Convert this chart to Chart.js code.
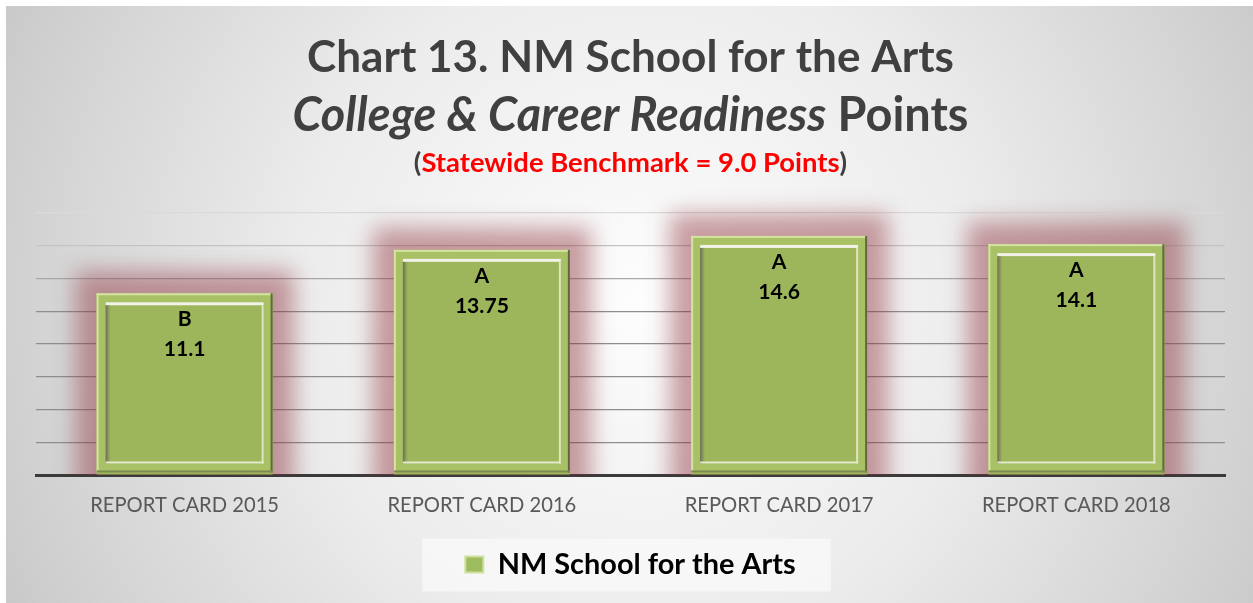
<!DOCTYPE html>
<html><head><meta charset="utf-8">
<script src="https://cdn.jsdelivr.net/npm/chart.js@4.4.1/dist/chart.umd.min.js"></script>
<style>html,body{margin:0;padding:0;background:#fff;overflow:hidden}#wrap{position:relative;width:1253px;height:603px}</style>
</head><body><div id="wrap"><canvas id="c" width="1253" height="603"></canvas></div>
<script>
// ---- data ----
const categories = ['REPORT CARD 2015', 'REPORT CARD 2016', 'REPORT CARD 2017', 'REPORT CARD 2018'];
const points = [11.1, 13.75, 14.6, 14.1];
const grades = ['B', 'A', 'A', 'A'];
const pointLabels = ['11.1', '13.75', '14.6', '14.1'];
const seriesName = 'NM School for the Arts';
const yMin = 0, yMax = 16, yStep = 2;
const titleLine1 = 'Chart 13. NM School for the Arts';
const titleLine2Italic = 'College & Career Readiness';
const titleLine2Plain = ' Points';
const titleLine3 = 'Statewide Benchmark = 9.0 Points';

// ---- font fitting ----
const FAMILY = 'Lato, "Open Sans", sans-serif';
const mc = document.createElement('canvas').getContext('2d');
function fit(parts, target) {
  let w = 0;
  parts.forEach(p => { mc.font = p.style + ' 100px ' + FAMILY; w += mc.measureText(p.text).width; });
  return 100 * target / w;
}
const s1 = fit([{style: 'bold', text: titleLine1}], 647);
const s2 = fit([{style: 'italic bold', text: titleLine2Italic}, {style: 'bold', text: titleLine2Plain}], 676);
const s3 = fit([{style: 'bold', text: '(' + titleLine3 + ')'}], 433);
const xs = fit([{style: 'normal', text: categories[0]}], 189);
const ls = fit([{style: 'bold', text: seriesName}], 298);
const vs = fit([{style: 'bold', text: '13.75'}], 54);

function drawParts(ctx, parts, cx, baseline, size) {
  let w = 0;
  parts.forEach(p => { ctx.font = p.style + ' ' + size + 'px ' + FAMILY; p.w = ctx.measureText(p.text).width; w += p.w; });
  let x = cx - w / 2;
  ctx.textBaseline = 'alphabetic'; ctx.textAlign = 'left';
  parts.forEach(p => { ctx.font = p.style + ' ' + size + 'px ' + FAMILY; ctx.fillStyle = p.color; ctx.fillText(p.text, x, baseline); x += p.w; });
}

const backgroundPlugin = {
  id: 'bg',
  beforeDraw(chart) {
    const ctx = chart.ctx, W = chart.width, H = chart.height;
    ctx.save();
    ctx.fillStyle = '#ffffff'; ctx.fillRect(0, 0, W, H);
    const g = ctx.createRadialGradient(640, 300, 0, 640, 300, 760);
    g.addColorStop(0, '#fdfdfd'); g.addColorStop(0.45, '#ececec');
    g.addColorStop(0.8, '#d3d3d3'); g.addColorStop(1, '#c3c3c3');
    ctx.fillStyle = g; ctx.fillRect(6, 6, W - 6, H - 6);
    // titles
    const cx = (chart.chartArea.left + chart.chartArea.right) / 2;
    drawParts(ctx, [{style: 'bold', text: titleLine1, color: '#404040'}], cx, 72, s1);
    drawParts(ctx, [{style: 'italic bold', text: titleLine2Italic, color: '#404040'}, {style: 'bold', text: titleLine2Plain, color: '#404040'}], cx, 131, s2);
    drawParts(ctx, [{style: 'bold', text: '(', color: '#404040'}, {style: 'bold', text: titleLine3, color: '#ff0000'}, {style: 'bold', text: ')', color: '#404040'}], cx, 172, s3);
    // legend backdrop
    const lg = chart.legend;
    if (lg && lg.legendHitBoxes && lg.legendHitBoxes.length) {
      const hb = lg.legendHitBoxes[0];
      const cy = hb.top + hb.height / 2;
      ctx.fillStyle = 'rgba(250,250,250,0.75)';
      ctx.fillRect(hb.left - 43, cy - 26, hb.width + 78, 53);
    }
    ctx.restore();
  }
};

const glowPlugin = {
  id: 'glow',
  beforeDatasetsDraw(chart) {
    const ctx = chart.ctx, a = chart.chartArea;
    const meta = chart.getDatasetMeta(0);
    ctx.save();
    ctx.beginPath(); ctx.rect(a.left - 40, a.top - 40, a.right - a.left + 80, a.bottom - a.top + 40); ctx.clip();
    ctx.filter = 'blur(11px)';
    ctx.fillStyle = 'rgba(140,45,55,0.45)';
    meta.data.forEach(el => {
      const L = el.x - el.width / 2;
      ctx.fillRect(L - 21, el.y - 22, el.width + 42, el.base - el.y + 50);
    });
    ctx.restore();
  }
};

const bevelPlugin = {
  id: 'bevel',
  afterDatasetsDraw(chart) {
    const ctx = chart.ctx;
    const meta = chart.getDatasetMeta(0);
    ctx.save();
    meta.data.forEach((el, i) => {
      const L = el.x - el.width / 2, R = el.x + el.width / 2, T = el.y, B = el.base - 2;
      const w = R - L, h = B - T;
      ctx.fillStyle = '#a9c165'; ctx.fillRect(L, T, w, h);
      // outer edges
      ctx.fillStyle = '#d4e2a4'; ctx.fillRect(L, T, w, 2); ctx.fillRect(L, T, 2, h);
      ctx.fillStyle = '#5f6842'; ctx.fillRect(R - 2, T, 2, h);
      ctx.fillStyle = '#7d8a4f'; ctx.fillRect(L, B - 2, w, 2);
      // inner panel
      const f = 9;
      ctx.fillStyle = '#9db55b'; ctx.fillRect(L + f, T + f, w - 2 * f, h - 2 * f);
      ctx.fillStyle = '#f2f2e8'; ctx.fillRect(L + f, T + f, w - 2 * f, 3);
      const lg = ctx.createLinearGradient(L + f, 0, L + f + 5, 0);
      lg.addColorStop(0, '#6a6a58'); lg.addColorStop(1, 'rgba(120,130,90,0)');
      ctx.fillStyle = lg; ctx.fillRect(L + f, T + f + 3, 5, h - 2 * f - 3);
      ctx.fillStyle = '#dfe5c4'; ctx.fillRect(R - f - 2, T + f + 3, 2, h - 2 * f - 3);
      ctx.fillStyle = '#e4e8cd'; ctx.fillRect(L + f, B - f - 2, w - 2 * f, 2);
      // labels
      ctx.fillStyle = '#000000';
      ctx.font = 'bold ' + vs + 'px ' + FAMILY;
      ctx.textAlign = 'center'; ctx.textBaseline = 'middle';
      ctx.fillText(grades[i], el.x, T + 26);
      ctx.fillText(pointLabels[i], el.x, T + 56);
    });
    ctx.restore();
  }
};

new Chart(document.getElementById('c'), {
  type: 'bar',
  data: {
    labels: categories,
    datasets: [{
      label: seriesName,
      data: points,
      backgroundColor: '#9db55b',
      borderWidth: 0,
      barPercentage: 0.592,
      categoryPercentage: 1.0
    }]
  },
  options: {
    responsive: false,
    animation: false,
    layout: {padding: {top: 213, left: 36, right: 28, bottom: 14}},
    scales: {
      x: {
        grid: {display: false},
        border: {display: true, color: '#3a3a3a', width: 3},
        ticks: {color: '#595959', font: {family: FAMILY, size: xs}, padding: 10},
        afterFit(scale) { scale.height = 63; }
      },
      y: {
        min: yMin, max: yMax,
        ticks: {display: false, stepSize: yStep},
        border: {display: false},
        grid: {
          drawTicks: false,
          lineWidth: 1.3,
          color: (c) => {
            const v = c.tick ? c.tick.value : 0;
            if (v === 0) return 'rgba(0,0,0,0)';
            if (v === 16) return '#dadada';
            if (v === 14) return '#c4c4c4';
            if (v === 12) return '#a8a8a8';
            return '#8e8e8e';
          }
        }
      }
    },
    plugins: {
      title: {display: false},
      tooltip: {enabled: false},
      legend: {
        position: 'bottom',
        labels: {
          color: '#000000',
          font: {family: FAMILY, size: ls, weight: 'bold'},
          boxWidth: 18, boxHeight: 16, padding: 12,
          generateLabels: () => [{text: seriesName, fillStyle: '#9dbb5f', strokeStyle: '#d0e09c', lineWidth: 2, hidden: false, datasetIndex: 0, fontColor: '#000000'}]
        }
      }
    }
  },
  plugins: [backgroundPlugin, glowPlugin, bevelPlugin]
});
</script></body></html>
